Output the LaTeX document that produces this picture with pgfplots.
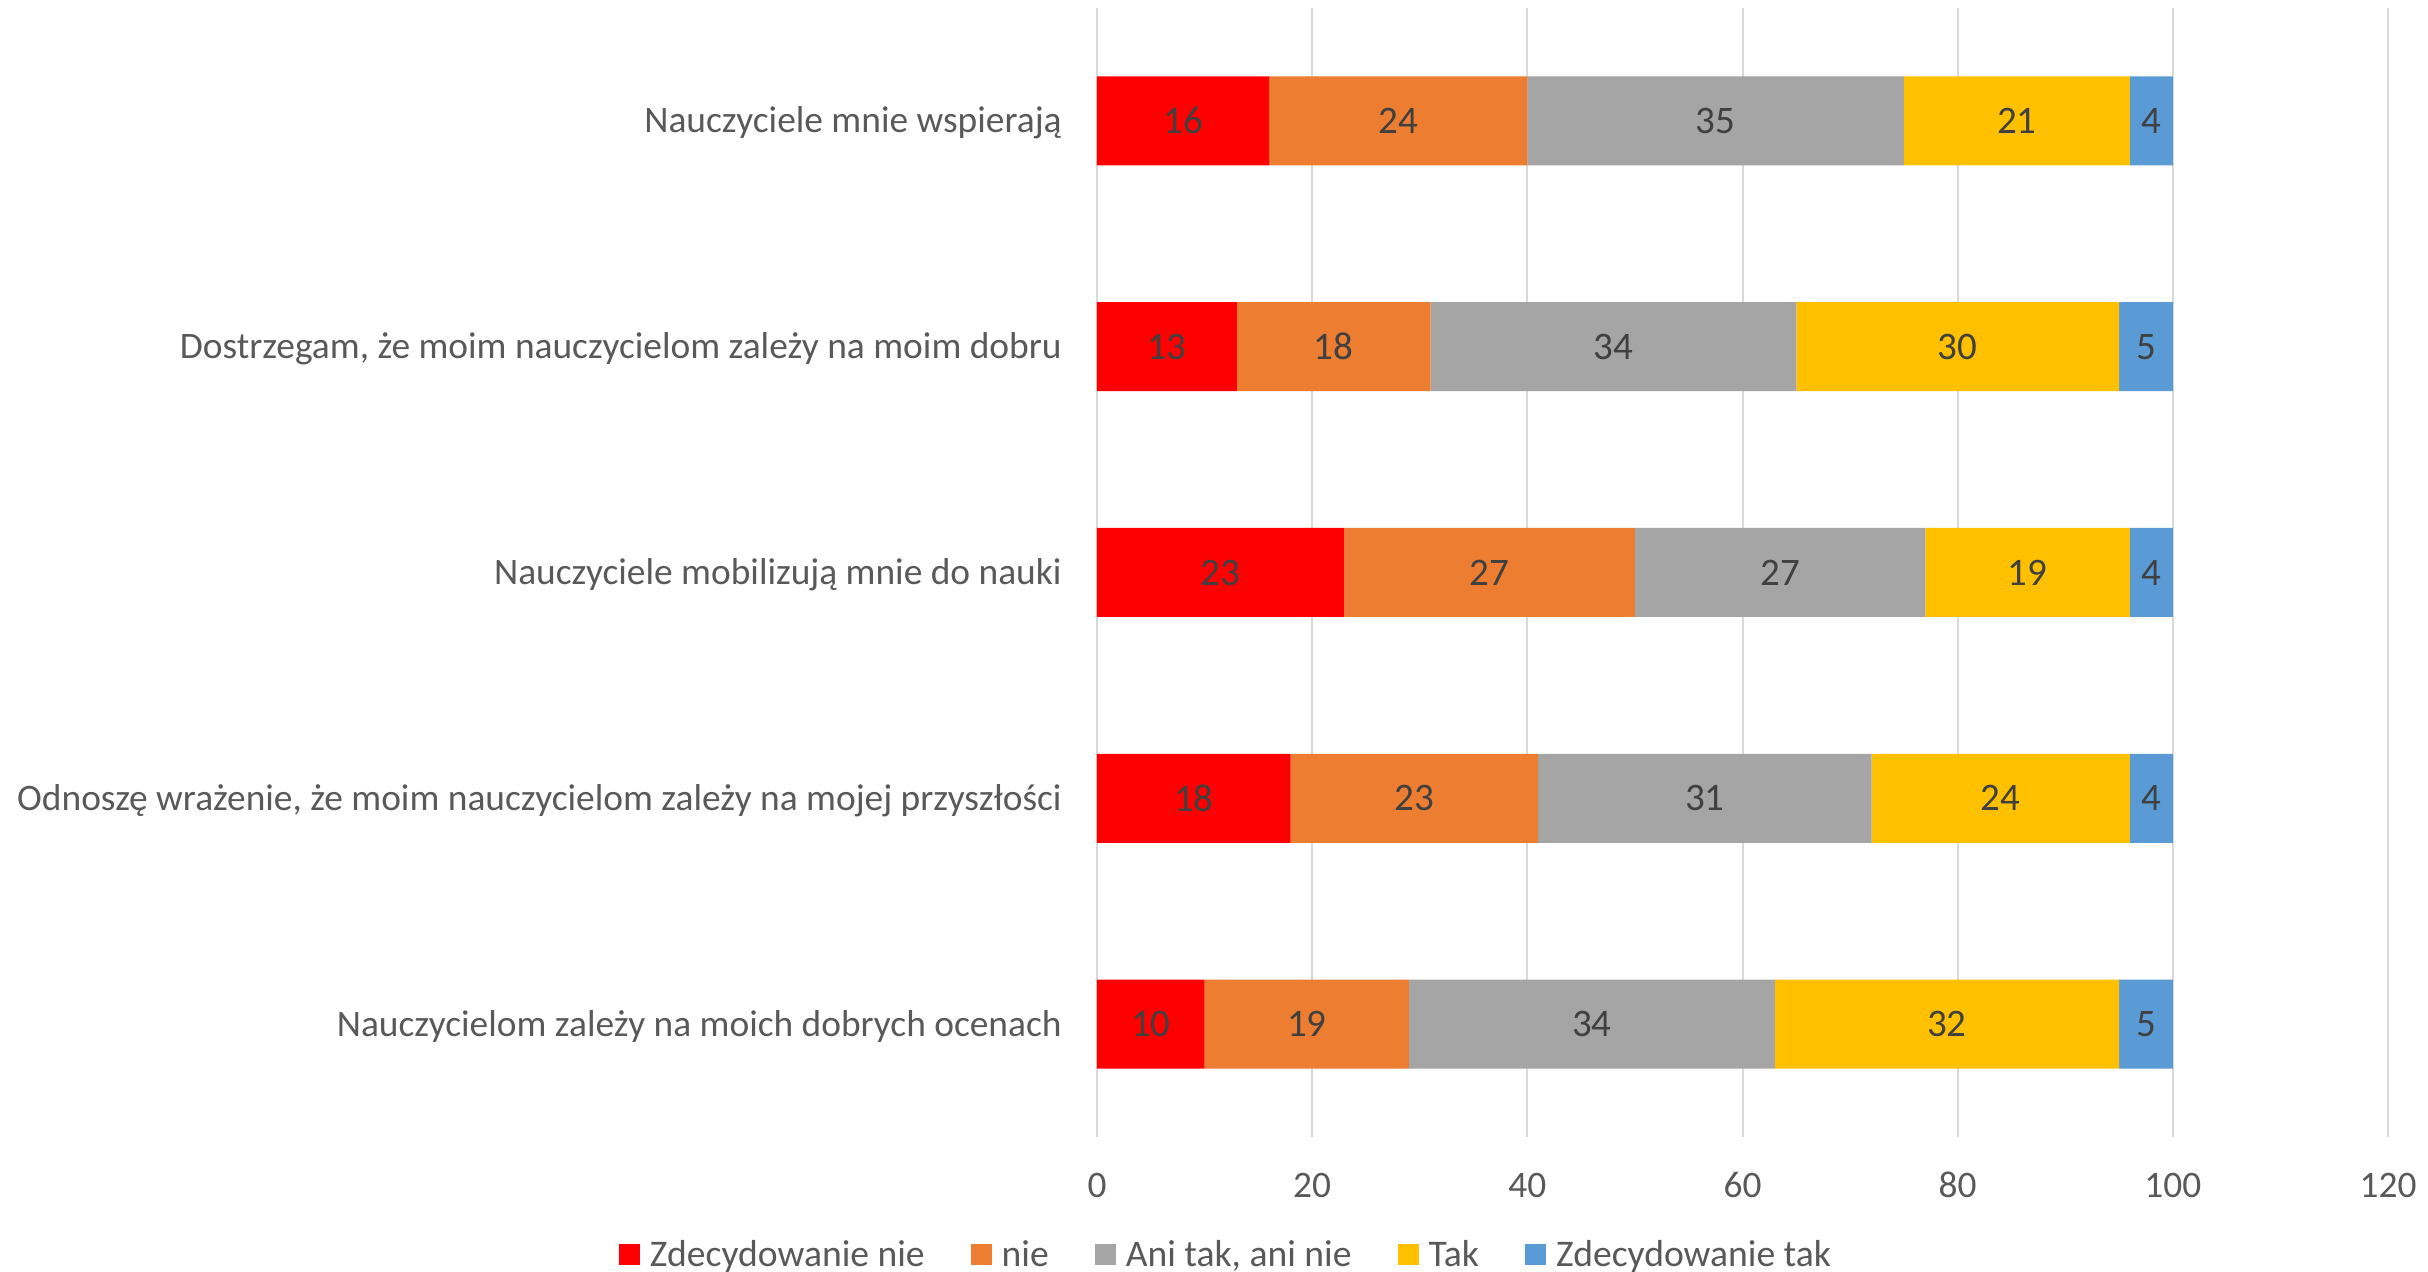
\documentclass[border=0pt]{standalone}
\usepackage{pgfplots}
\pgfplotsset{compat=1.18}
\usepackage{fontspec}
\setmainfont{Carlito}
\definecolor{cRed}{HTML}{FF0000}
\definecolor{cOrange}{HTML}{ED7D31}
\definecolor{cGray}{HTML}{A5A5A5}
\definecolor{cYellow}{HTML}{FFC000}
\definecolor{cBlue}{HTML}{5B9BD5}
\definecolor{cGrid}{HTML}{D9D9D9}
\definecolor{cText}{HTML}{595959}
\definecolor{cLabel}{HTML}{404040}
\begin{document}
\begin{tikzpicture}
\useasboundingbox (-548.5pt,-67.5pt) rectangle (665.5pt,568.5pt);
\begin{axis}[
  at={(0,0)}, anchor=south west,
  scale only axis,
  width=645.5pt, height=564.5pt,
  xbar stacked,
  bar width=44.5pt,
  xmin=0, xmax=120,
  ymin=-0.5, ymax=4.5,
  xtick={0,20,...,120},
  ytick={0,1,2,3,4},
  yticklabels={
    Nauczycielom zależy na moich dobrych ocenach,
    {Odnoszę wrażenie, że moim nauczycielom zależy na mojej przyszłości},
    Nauczyciele mobilizują mnie do nauki,
    {Dostrzegam, że moim nauczycielom zależy na moim dobru},
    Nauczyciele mnie wspierają},
  axis line style={draw=none},
  major tick length=0pt,
  xmajorgrids,
  grid style={color=cGrid, line width=1pt},
  /pgf/number format/assume math mode=true,
  tick label style={font=\fontsize{18.7}{22}\selectfont, text=cText},
  xticklabel style={anchor=center, yshift=-24pt},
  yticklabel style={anchor=base east, inner sep=0pt, xshift=-17.5pt, yshift=-6pt},
  nodes near coords,
  every node near coord/.append style={
    font=\fontsize{19.5}{22}\selectfont, text=cLabel,
    anchor=center},
  legend style={
    draw=none, fill=none,
    at={(rel axis cs:0.1007,-0.1045)}, anchor=center,
    legend columns=5,
    font=\fontsize{18.8}{22}\selectfont, text=cText,
    /tikz/every even column/.append style={column sep=21pt},
    nodes={inner sep=2pt},
  },
  legend image code/.code={\fill[#1] (0pt,-5.25pt) rectangle (10.5pt,5.25pt); \path (13.5pt,0pt);},
  legend cell align=left,
]
\addplot[fill=cRed, draw=none] coordinates {(10,0) (18,1) (23,2) (13,3) (16,4)};
\addplot[fill=cOrange, draw=none] coordinates {(19,0) (23,1) (27,2) (18,3) (24,4)};
\addplot[fill=cGray, draw=none] coordinates {(34,0) (31,1) (27,2) (34,3) (35,4)};
\addplot[fill=cYellow, draw=none] coordinates {(32,0) (24,1) (19,2) (30,3) (21,4)};
\addplot[fill=cBlue, draw=none] coordinates {(5,0) (4,1) (4,2) (5,3) (4,4)};
\legend{Zdecydowanie nie, nie, {Ani tak, ani nie}, Tak, Zdecydowanie tak}
\end{axis}
\end{tikzpicture}
\end{document}
